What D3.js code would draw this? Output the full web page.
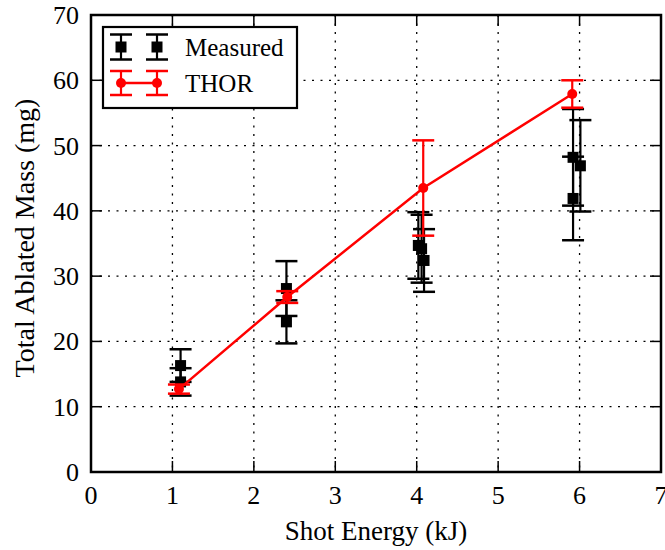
<!DOCTYPE html>
<html lang="en">
<head>
  <meta charset="UTF-8">
  <title>Total Ablated Mass vs Shot Energy</title>
  <script src="https://d3js.org/d3.v7.min.js"></script>
  <style>
    body { margin: 0; padding: 0; background: #fff; }
    svg { display: block; }
    svg text { font-family: "Liberation Serif", "Times New Roman", serif; fill: #000; }
    .grid line { stroke: #000; stroke-width: 1.3; stroke-dasharray: 2,6.5; }
    .tick-label { font-size: 26px; }
  </style>
</head>
<body>
<svg id="chart" width="665" height="550"></svg>

<script>
  // measured points (kJ, mg, +/- mg)
  const measuredEnergy = [1.10, 1.10, 2.40, 2.40, 4.02, 4.06, 4.09, 5.92, 6.01, 5.92];
  const measuredMass   = [16.3, 13.8, 28.1, 23.0, 34.7, 34.2, 32.4, 48.2, 46.9, 41.9];
  const measuredErr    = [2.5, 2.1, 4.2, 3.3, 5.1, 5.2, 4.8, 7.4, 7.0, 6.4];

  // THOR simulation
  const thorEnergy = [1.08, 2.41, 4.08, 5.91];
  const thorMass   = [12.7, 26.8, 43.5, 57.9];
  const thorErr    = [0.7, 0.9, 7.3, 2.1];

  const xTicks = [0, 1, 2, 3, 4, 5, 6, 7];
  const yTicks = [0, 10, 20, 30, 40, 50, 60, 70];

  const svg = d3.select("#chart");
  const pL = 91, pR = 661, pT = 15, pB = 472;

  const x = d3.scaleLinear().domain([0, 7]).range([pL, pR]);
  const y = d3.scaleLinear().domain([0, 70]).range([pB, pT]);

  // dotted grid
  const grid = svg.append("g").attr("class", "grid");
  grid.selectAll("line.v").data(xTicks).enter().append("line")
      .attr("x1", d => x(d)).attr("x2", d => x(d))
      .attr("y1", pT).attr("y2", pB);
  grid.selectAll("line.h").data(yTicks).enter().append("line")
      .attr("x1", pL).attr("x2", pR)
      .attr("y1", d => y(d)).attr("y2", d => y(d));

  // inward ticks on all four sides
  const tickLen = 11;
  const ticks = svg.append("g").attr("stroke", "#000").attr("stroke-width", 1.5);
  xTicks.forEach(t => {
    ticks.append("line").attr("x1", x(t)).attr("x2", x(t)).attr("y1", pB).attr("y2", pB - tickLen);
    ticks.append("line").attr("x1", x(t)).attr("x2", x(t)).attr("y1", pT).attr("y2", pT + tickLen);
  });
  yTicks.forEach(t => {
    ticks.append("line").attr("x1", pL).attr("x2", pL + tickLen).attr("y1", y(t)).attr("y2", y(t));
    ticks.append("line").attr("x1", pR).attr("x2", pR - tickLen).attr("y1", y(t)).attr("y2", y(t));
  });

  // tick labels (the last x label sits on the page edge, as in the original)
  svg.append("g").selectAll("text").data(xTicks).enter().append("text")
      .attr("class", "tick-label")
      .attr("x", d => x(d)).attr("y", pB + 32)
      .attr("text-anchor", "middle")
      .text(d => d);
  svg.append("g").selectAll("text").data(yTicks).enter().append("text")
      .attr("class", "tick-label")
      .attr("x", pL - 12).attr("y", d => y(d) + 9)
      .attr("text-anchor", "end")
      .text(d => d);

  // axis labels
  svg.append("text")
      .attr("x", (pL + pR) / 2).attr("y", 540)
      .attr("text-anchor", "middle")
      .attr("font-size", 27)
      .text("Shot Energy (kJ)");
  svg.append("text")
      .attr("transform", "translate(34,238) rotate(-90)")
      .attr("text-anchor", "middle")
      .attr("font-size", 28)
      .text("Total Ablated Mass (mg)");

  const capW = 11;

  function errorBar(g, cx, hi, lo, color) {
    g.append("line").attr("x1", cx).attr("x2", cx).attr("y1", hi).attr("y2", lo)
        .attr("stroke", color).attr("stroke-width", 2.2);
    [hi, lo].forEach(v => g.append("line")
        .attr("x1", cx - capW).attr("x2", cx + capW).attr("y1", v).attr("y2", v)
        .attr("stroke", color).attr("stroke-width", 2.5));
  }

  // measured: black squares with error bars
  const meas = svg.append("g");
  measuredEnergy.forEach((e, i) => {
    errorBar(meas, x(e), y(measuredMass[i] + measuredErr[i]), y(measuredMass[i] - measuredErr[i]), "#000");
  });
  meas.selectAll("rect").data(measuredEnergy).enter().append("rect")
      .attr("x", d => x(d) - 5.5).attr("y", (d, i) => y(measuredMass[i]) - 5.5)
      .attr("width", 11).attr("height", 11)
      .attr("fill", "#000");

  // THOR: red line, dots and error bars
  const thor = svg.append("g");
  thorEnergy.forEach((e, i) => {
    errorBar(thor, x(e), y(thorMass[i] + thorErr[i]), y(thorMass[i] - thorErr[i]), "#f00");
  });
  const line = d3.line().x(d => x(d[0])).y(d => y(d[1]));
  thor.append("path")
      .datum(thorEnergy.map((e, i) => [e, thorMass[i]]))
      .attr("d", line)
      .attr("fill", "none").attr("stroke", "#f00").attr("stroke-width", 2.5);
  thor.selectAll("circle").data(thorEnergy).enter().append("circle")
      .attr("cx", d => x(d)).attr("cy", (d, i) => y(thorMass[i]))
      .attr("r", 5).attr("fill", "#f00");

  // frame
  svg.append("rect")
      .attr("x", pL).attr("y", pT)
      .attr("width", pR - pL).attr("height", pB - pT)
      .attr("fill", "none").attr("stroke", "#000").attr("stroke-width", 2.5);

  // legend
  const lg = svg.append("g");
  lg.append("rect").attr("x", 103).attr("y", 27).attr("width", 194).attr("height", 81)
      .attr("fill", "#fff").attr("stroke", "#000").attr("stroke-width", 2.2);
  const lx = [121, 157];
  lx.forEach(px => {
    errorBar(lg, px, 34.5, 59.5, "#000");
    lg.append("rect").attr("x", px - 5.5).attr("y", 41.5).attr("width", 11).attr("height", 11).attr("fill", "#000");
  });
  lg.append("line").attr("x1", lx[0]).attr("x2", lx[1]).attr("y1", 83).attr("y2", 83)
      .attr("stroke", "#f00").attr("stroke-width", 2.5);
  lx.forEach(px => {
    errorBar(lg, px, 71, 95, "#f00");
    lg.append("circle").attr("cx", px).attr("cy", 83).attr("r", 5).attr("fill", "#f00");
  });
  lg.append("text").attr("x", 185).attr("y", 56).attr("font-size", 25).text("Measured");
  lg.append("text").attr("x", 185).attr("y", 92).attr("font-size", 25).text("THOR");
</script>
</body>
</html>
